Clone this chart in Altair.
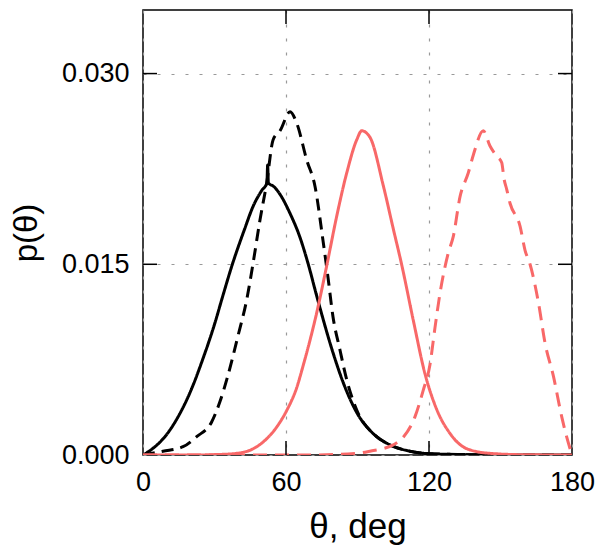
import altair as alt
import pandas as pd

# Black solid
bs_theta = [0, 5, 9.2, 14.1, 19.7, 25.2, 30.2, 33, 37.5, 42.5, 46.3, 49.8, 52, 52.3, 52.6, 55, 57.5, 61.7, 65.9, 69.2, 72.9, 79.8, 84, 89.8, 96.5, 103.6, 112, 120.4, 135, 150, 180]
bs_p = [0, 0.00065, 0.00144, 0.0028, 0.0049, 0.0076, 0.0104, 0.0122, 0.0150, 0.0177, 0.0196, 0.0208, 0.0214, 0.0228, 0.0214, 0.0211, 0.0205, 0.0190, 0.0171, 0.0151, 0.0125, 0.0080, 0.0057, 0.0033, 0.0017, 0.0008, 0.0003, 0.0001, 0.00003, 0, 0]

# Black dashed
bd_theta = [0, 8.4, 16.8, 22.5, 28.8, 32.3, 35.7, 39.9, 43.5, 46.2, 49.1, 51.9, 54.6, 57.5, 61.7, 64.5, 68.7, 72.2, 75.5, 77.6, 79.7, 82.6, 85.5, 88.1, 90, 96.5, 103.6, 112, 120.4, 135, 150, 180]
bd_p = [0, 0.0003, 0.00065, 0.00144, 0.0026, 0.0042, 0.0063, 0.0094, 0.0122, 0.0151, 0.0185, 0.0214, 0.0248, 0.0255, 0.0270, 0.0261, 0.0232, 0.0211, 0.0169, 0.0140, 0.0109, 0.0083, 0.0059, 0.0043, 0.0034, 0.0017, 0.0008, 0.0003, 0.0001, 0.00003, 0, 0]

# Red solid
rs_theta = [0, 20, 30, 39.3, 47.7, 56.1, 60.3, 64.5, 67.3, 72.9, 77.1, 81.3, 85.5, 89.7, 91.8, 95.2, 100.8, 105, 108.5, 113.4, 118.3, 123.2, 128.8, 135.8, 145.6, 160, 180]
rs_p = [0, 0, 0.00003, 0.00013, 0.00065, 0.0022, 0.0035, 0.0053, 0.0071, 0.0112, 0.0149, 0.0188, 0.0222, 0.0248, 0.0255, 0.0250, 0.0212, 0.0178, 0.0150, 0.0106, 0.0064, 0.0036, 0.0017, 0.0005, 0.00013, 0.00002, 0]

# Red dashed
rd_theta = [0, 70, 89.7, 95.2, 105, 109.2, 114.1, 117.6, 120.4, 122.5, 124.6, 128.1, 130.2, 133, 136.5, 138.6, 142.8, 145.6, 148.4, 150.5, 151.5, 152.6, 154, 158.2, 160.3, 162.4, 165.9, 168.7, 172.2, 175.7, 177.8, 180]
rd_p = [0, 0, 0.00013, 0.0003, 0.0008, 0.0014, 0.0030, 0.0051, 0.0071, 0.0100, 0.0127, 0.0159, 0.0172, 0.0203, 0.0222, 0.0236, 0.0255, 0.0243, 0.0235, 0.0230, 0.0217, 0.0209, 0.0198, 0.0180, 0.0161, 0.0150, 0.0120, 0.0088, 0.0062, 0.0030, 0.0014, 0]

x_ticks = [60, 120]
y_ticks = [0.015, 0.030]

series = [("bs", bs_theta, bs_p), ("bd", bd_theta, bd_p), ("rs", rs_theta, rs_p), ("rd", rd_theta, rd_p)]
rows = []
for name, th, pp in series:
    for i, (t, v) in enumerate(zip(th, pp)):
        rows.append({"series": name, "theta": t, "p": v, "order": i})
df = pd.DataFrame(rows)

RED = "#f86868"
W, H = 429, 445
FONT = "Liberation Sans"

xscale = alt.Scale(domain=[0, 180], nice=False, zero=False)
yscale = alt.Scale(domain=[0, 0.035], nice=False)

lines = alt.Chart(df).mark_line(strokeWidth=3, clip=True, interpolate="monotone").encode(
    x=alt.X("theta:Q", scale=xscale,
            axis=alt.Axis(values=[0, 60, 120, 180], title="θ, deg", ticks=False, domain=False,
                          grid=True, gridDash=[3, 11], gridColor="#999999", gridWidth=1.2,
                          labelFontSize=27, labelPadding=14, labelFont=FONT, labelColor="black",
                          titleFontSize=35, titleFont=FONT, titleFontWeight="normal",
                          titlePadding=14, titleColor="black", labelFlush=False)),
    y=alt.Y("p:Q", scale=yscale,
            axis=alt.Axis(values=[0, 0.015, 0.030], format=".3f", title="p(θ)", ticks=False, domain=False,
                          grid=True, gridDash=[3, 11], gridColor="#999999", gridWidth=1.2,
                          labelFontSize=27, labelPadding=14, labelFont=FONT, labelColor="black",
                          titleFontSize=33, titleFont=FONT, titleFontWeight="normal",
                          titlePadding=18, titleColor="black", labelFlush=False)),
    color=alt.Color("series:N", scale=alt.Scale(domain=["bs", "bd", "rs", "rd"],
                                                range=["black", "black", RED, RED]), legend=None),
    strokeDash=alt.StrokeDash("series:N", scale=alt.Scale(domain=["bs", "bd", "rs", "rd"],
                                                          range=[[1, 0], [12, 7], [1, 0], [14, 8]]), legend=None),
    order="order:Q",
    detail="series:N",
)

xt = pd.DataFrame({"t": x_ticks})
yt = pd.DataFrame({"t": y_ticks})

top_ticks = alt.Chart(xt).mark_rule(color="black", strokeWidth=1.5).encode(
    x=alt.X("t:Q", scale=xscale), y=alt.value(0), y2=alt.value(14))
bot_ticks = alt.Chart(xt).mark_rule(color="black", strokeWidth=1.5).encode(
    x=alt.X("t:Q", scale=xscale), y=alt.value(H), y2=alt.value(H - 14))
left_ticks = alt.Chart(yt).mark_rule(color="black", strokeWidth=1.5).encode(
    y=alt.Y("t:Q", scale=yscale), x=alt.value(0), x2=alt.value(14))
right_ticks = alt.Chart(yt).mark_rule(color="black", strokeWidth=1.5).encode(
    y=alt.Y("t:Q", scale=yscale), x=alt.value(W), x2=alt.value(W - 14))

chart = alt.layer(lines, top_ticks, bot_ticks, left_ticks, right_ticks).properties(
    width=W, height=H,
    autosize=alt.AutoSizeParams(type="none"),
    padding={"left": 135, "top": 2, "right": 24, "bottom": 94},
).configure_view(stroke="black", strokeWidth=1.5).configure_axis(labelFont=FONT, titleFont=FONT)

chart.save("out.html", embed_options={"renderer": "svg", "actions": False})
